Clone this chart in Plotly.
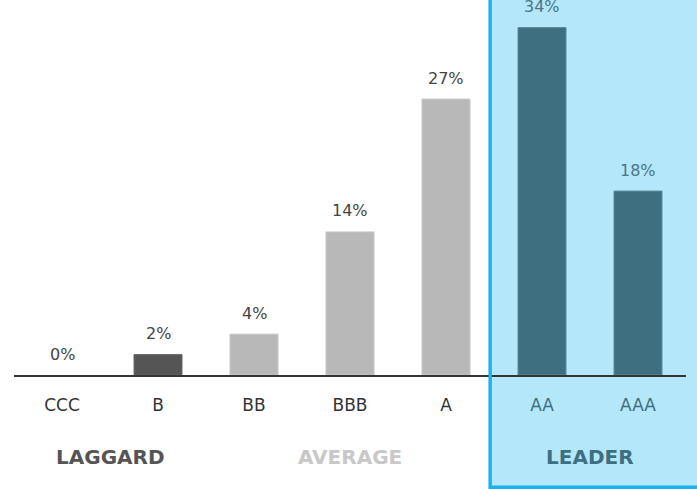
import plotly.graph_objects as go

ratings = ['CCC', 'B', 'BB', 'BBB', 'A', 'AA', 'AAA']
shares = [0, 2, 4, 14, 27, 34, 18]
groups = ['LAGGARD', 'AVERAGE', 'LEADER']
group_pos = [0.5, 3, 5.5]

bar_colors = ['#555555', '#555555', '#b8b8b8', '#b8b8b8', '#b8b8b8', '#3e6f80', '#3e6f80']
edge_colors = ['#6a6a6a', '#6a6a6a', '#c6c6c6', '#c6c6c6', '#c6c6c6', '#5d8a99', '#5d8a99']
label_colors = ['#444444'] * 5 + ['#4d7584'] * 2
tick_colors = ['#333333'] * 5 + ['#3e6f80'] * 2
group_colors = ['#555555', '#c8c8c8', '#3e6f80']

fig = go.Figure(go.Bar(
    x=list(range(len(ratings))), y=shares,
    width=0.5,
    marker=dict(color=bar_colors,
                line=dict(color=edge_colors, width=[0 if v == 0 else 1 for v in shares])),
    showlegend=False, hoverinfo='skip'))

# leader zone (paper coords so it runs past the right edge)
zone = dict(type='rect', xref='paper', yref='paper',
            x0=(4.46 + 0.5) / 7, x1=1.1, y0=-0.299, y1=1.2)
fig.add_shape(**zone, fillcolor='#b3e7f9', line_width=0, layer='below')
fig.add_shape(**zone, fillcolor='rgba(0,0,0,0)',
              line=dict(color='#19b4f0', width=3.5), layer='above')

for i, v in enumerate(shares):
    fig.add_annotation(x=i, y=v, text=f'{v}%', showarrow=False,
                       yanchor='middle', yshift=21,
                       font=dict(size=16, color=label_colors[i]))

for g, p, c in zip(groups, group_pos, group_colors):
    fig.add_annotation(x=p, y=-0.219, yref='paper', text=f'<b>{g}</b>',
                       showarrow=False, yanchor='middle',
                       font=dict(size=20, color=c))

fig.update_xaxes(range=[-0.5, 6.5], tickvals=list(range(len(ratings))),
                 ticktext=[f"<span style='color:{c}'>{r}</span>" for r, c in zip(ratings, tick_colors)],
                 showline=True, linecolor='#333333', linewidth=1.5,
                 showgrid=False, ticks='', ticklen=0, ticklabelstandoff=14,
                 tickfont=dict(size=17, color='#333333'))
fig.update_yaxes(range=[0, 36.7], visible=False, showgrid=False, zeroline=False)

fig.update_layout(width=697, height=489,
                  margin=dict(l=14, r=11, t=0, b=114),
                  plot_bgcolor='rgba(0,0,0,0)', paper_bgcolor='white',
                  font=dict(family='DejaVu Sans', color='#333333'),
                  bargap=0.5)

fig.write_html('out.html', config={'displayModeBar': False},
               post_script="document.body.style.margin='0px';")
